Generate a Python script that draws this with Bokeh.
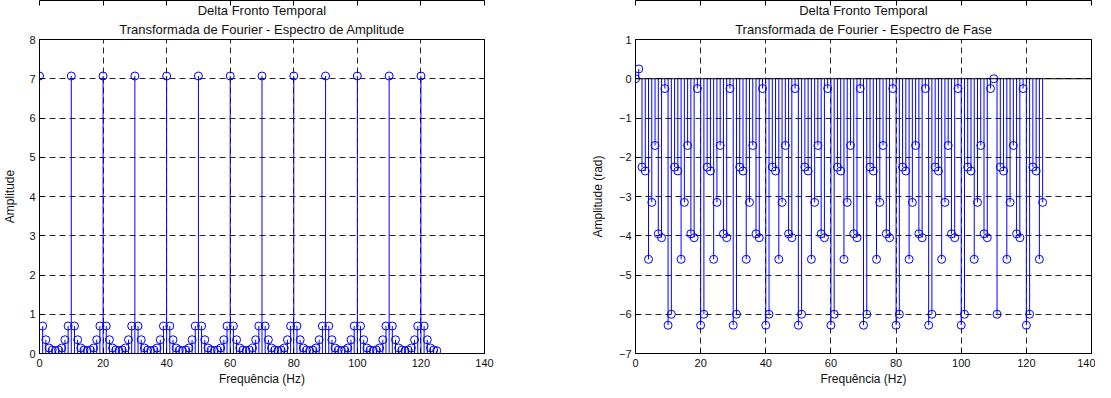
from bokeh.plotting import figure
from bokeh.models import Title, LinearAxis, Span, Range1d, FixedTicker, ColumnDataSource
from bokeh.layouts import row
from bokeh.embed import file_html
from bokeh.resources import INLINE

# ---------------- data ----------------
freq_hz = list(range(126))  # DFT bins, 1 Hz apart, 0..125 Hz

amplitude = [
    7.07, 0.70, 0.35, 0.14, 0.09, 0.07, 0.09, 0.14, 0.35, 0.70,   # 0-9
    7.07, 0.70, 0.35, 0.14, 0.09, 0.07, 0.09, 0.14, 0.35, 0.70,   # 10-19
    7.07, 0.70, 0.35, 0.14, 0.09, 0.07, 0.09, 0.14, 0.35, 0.70,   # 20-29
    7.07, 0.70, 0.35, 0.14, 0.09, 0.07, 0.09, 0.14, 0.35, 0.70,   # 30-39
    7.07, 0.70, 0.35, 0.14, 0.09, 0.07, 0.09, 0.14, 0.35, 0.70,   # 40-49
    7.07, 0.70, 0.35, 0.14, 0.09, 0.07, 0.09, 0.14, 0.35, 0.70,   # 50-59
    7.07, 0.70, 0.35, 0.14, 0.09, 0.07, 0.09, 0.14, 0.35, 0.70,   # 60-69
    7.07, 0.70, 0.35, 0.14, 0.09, 0.07, 0.09, 0.14, 0.35, 0.70,   # 70-79
    7.07, 0.70, 0.35, 0.14, 0.09, 0.07, 0.09, 0.14, 0.35, 0.70,   # 80-89
    7.07, 0.70, 0.35, 0.14, 0.09, 0.07, 0.09, 0.14, 0.35, 0.70,   # 90-99
    7.07, 0.70, 0.35, 0.14, 0.09, 0.07, 0.09, 0.14, 0.35, 0.70,   # 100-109
    7.07, 0.70, 0.35, 0.14, 0.09, 0.07, 0.09, 0.14, 0.35, 0.70,   # 110-119
    7.07, 0.70, 0.35, 0.14, 0.09, 0.07,                           # 120-125
]

phase_rad = [
    0.00, 0.25, -2.25, -2.35, -4.60, -3.15, -1.70, -3.95, -4.05, -0.25,   # 0-9
    -6.28, -6.00, -2.25, -2.35, -4.60, -3.15, -1.70, -3.95, -4.05, -0.25,  # 10-19
    -6.28, -6.00, -2.25, -2.35, -4.60, -3.15, -1.70, -3.95, -4.05, -0.25,  # 20-29
    -6.28, -6.00, -2.25, -2.35, -4.60, -3.15, -1.70, -3.95, -4.05, -0.25,  # 30-39
    -6.28, -6.00, -2.25, -2.35, -4.60, -3.15, -1.70, -3.95, -4.05, -0.25,  # 40-49
    -6.28, -6.00, -2.25, -2.35, -4.60, -3.15, -1.70, -3.95, -4.05, -0.25,  # 50-59
    -6.28, -6.00, -2.25, -2.35, -4.60, -3.15, -1.70, -3.95, -4.05, -0.25,  # 60-69
    -6.28, -6.00, -2.25, -2.35, -4.60, -3.15, -1.70, -3.95, -4.05, -0.25,  # 70-79
    -6.28, -6.00, -2.25, -2.35, -4.60, -3.15, -1.70, -3.95, -4.05, -0.25,  # 80-89
    -6.28, -6.00, -2.25, -2.35, -4.60, -3.15, -1.70, -3.95, -4.05, -0.25,  # 90-99
    -6.28, -6.00, -2.25, -2.35, -4.60, -3.15, -1.70, -3.95, -4.05, -0.25,  # 100-109
    0.00, -6.00, -2.25, -2.35, -4.60, -3.15, -1.70, -3.95, -4.05, -0.25,   # 110-119
    -6.28, -6.00, -2.25, -2.35, -4.60, -3.15,                              # 120-125
]

x_ticks = [0, 20, 40, 60, 80, 100, 120, 140]
amp_ticks = [0, 1, 2, 3, 4, 5, 6, 7, 8]
phase_ticks = [-7, -6, -5, -4, -3, -2, -1, 0, 1]

title_main = "Delta Fronto Temporal"
title_amp = "Transformada de Fourier - Espectro de Amplitude"
title_phase = "Transformada de Fourier - Espectro de Fase"
x_label = "Frequência (Hz)"
amp_label = "Amplitude"
phase_label = "Amplitude (rad)"

FONT = "Liberation Sans"
STEM = "#0000ff"
TXT = "#111111"


def make_plot(width, mbl, mbr, values, yrange, yticks, sub, ylabel, ylab_standoff):
    p = figure(width=width, height=388, x_range=Range1d(0, 140),
               y_range=Range1d(*yrange), output_backend="svg",
               toolbar_location=None, min_border_left=mbl, min_border_right=mbr,
               min_border_top=35, min_border_bottom=35,
               outline_line_color="black", outline_line_width=1,
               background_fill_color="white", border_fill_color="white")
    p.title = None
    p.add_layout(Title(text=sub, align="center", text_font=FONT,
                       text_font_size="13px", text_font_style="normal",
                       text_color=TXT, standoff=5), "above")
    p.add_layout(Title(text=title_main, align="center", text_font=FONT,
                       text_font_size="13px", text_font_style="normal",
                       text_color=TXT, standoff=0), "above")

    for ax in (p.xaxis[0], p.yaxis[0]):
        ax.major_tick_in = 5
        ax.major_tick_out = 0
        ax.minor_tick_line_color = None
        ax.axis_line_color = "black"
        ax.major_tick_line_color = "black"
        ax.major_label_text_font = FONT
        ax.major_label_text_font_size = "11px"
        ax.major_label_text_color = TXT
        ax.axis_label_text_font = FONT
        ax.axis_label_text_font_size = "12px"
        ax.axis_label_text_font_style = "normal"
        ax.axis_label_text_color = TXT
    p.xaxis.ticker = FixedTicker(ticks=x_ticks)
    p.yaxis.ticker = FixedTicker(ticks=yticks)
    p.xaxis.axis_label = x_label
    p.yaxis.axis_label = ylabel
    p.xaxis.major_label_standoff = 5
    p.xaxis.axis_label_standoff = 2
    p.yaxis.major_label_standoff = 4
    p.yaxis.axis_label_standoff = ylab_standoff

    # MATLAB-style box ticks on top and right (no labels)
    for loc, tk in (("right", yticks), ("above", x_ticks)):
        ax = LinearAxis(ticker=FixedTicker(ticks=tk), major_label_text_font_size="1px",
                        major_label_text_color=None, major_label_standoff=0,
                        major_tick_in=5, major_tick_out=0,
                        minor_tick_line_color=None, axis_line_color="black",
                        major_tick_line_color="black")
        p.add_layout(ax, loc)

    p.xgrid.ticker = FixedTicker(ticks=x_ticks)
    p.ygrid.ticker = FixedTicker(ticks=yticks)
    for g in (p.xgrid[0], p.ygrid[0]):
        g.grid_line_color = "black"
        g.grid_line_dash = "6 4"
        g.grid_line_width = 1
        g.grid_line_alpha = 0.85

    src = ColumnDataSource(dict(f=freq_hz, v=values, base=[0] * len(values)))
    p.segment(x0="f", y0="base", x1="f", y1="v", source=src,
              line_color=STEM, line_width=1)
    p.scatter(x="f", y="v", source=src, marker="circle", size=8,
              fill_color=None, line_color=STEM, line_width=1)
    p.add_layout(Span(location=0, dimension="width", line_color="black", line_width=1))
    return p


p1 = make_plot(560, 33, 76, amplitude, (0, 8), amp_ticks, title_amp, amp_label, 9)
p2 = make_plot(535, 75, 4, phase_rad, (-7, 1), phase_ticks, title_phase, phase_label, 11)

layout = row(p1, p2)
open("out.html", "w").write(file_html(layout, INLINE))
